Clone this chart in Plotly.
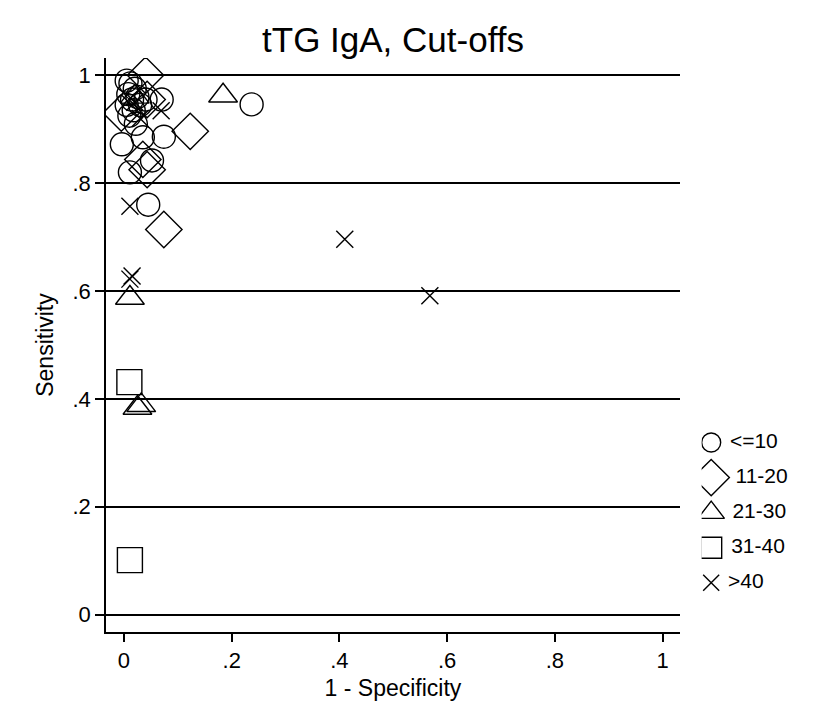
import plotly.graph_objects as go

# ---- data (1 - specificity, sensitivity) per cut-off group ----
groups = ["<=10", "11-20", "21-30", "31-40", ">40"]

x_le10 = [0.005, 0.012, 0.020, 0.008, 0.015, 0.025, 0.005, 0.018, 0.010, 0.030, 0.040, 0.022, 0.070,
          -0.004, 0.035, 0.074, 0.052, 0.011, 0.045, 0.237]
y_le10 = [0.990, 0.985, 0.975, 0.965, 0.955, 0.960, 0.945, 0.935, 0.925, 0.945, 0.955, 0.910, 0.955,
          0.872, 0.885, 0.886, 0.842, 0.820, 0.760, 0.946]

x_11_20 = [0.040, 0.043, -0.005, 0.123, 0.035, 0.043, 0.074]
y_11_20 = [1.000, 0.955, 0.930, 0.896, 0.844, 0.825, 0.714]

x_21_30 = [0.184, 0.020, 0.011, 0.025, 0.032]
y_21_30 = [0.962, 0.960, 0.587, 0.383, 0.388]

x_31_40 = [0.010, 0.011]
y_31_40 = [0.431, 0.101]

x_gt40 = [0.069, 0.020, 0.030, 0.011, 0.011, 0.015, 0.410, 0.568]
y_gt40 = [0.934, 0.950, 0.920, 0.757, 0.622, 0.628, 0.696, 0.591]

tick_vals = [0, 0.2, 0.4, 0.6, 0.8, 1]
tick_text = ["0", ".2", ".4", ".6", ".8", "1"]

series_x = [x_le10, x_11_20, x_21_30, x_31_40, x_gt40]
series_y = [y_le10, y_11_20, y_21_30, y_31_40, y_gt40]
symbols = ["circle-open", "diamond-open", "triangle-up-open", "square-open", "x-thin-open"]
sizes = [23, 28, 25, 25, 17]
leg_sizes = [19, 28, 23, 21, 16]

FONT = "Arial, Liberation Sans, sans-serif"
TXT = 22
fig = go.Figure()

for name, xs, ys, sym, sz in zip(groups, series_x, series_y, symbols, sizes):
    fig.add_trace(go.Scatter(
        x=xs, y=ys, mode="markers", name=name, showlegend=False,
        marker=dict(symbol=sym, size=sz, color="black", line=dict(color="black", width=1.4)),
        xaxis="x", yaxis="y"))

# custom legend drawn on a hidden auxiliary axis
for i, (name, sym, sz) in enumerate(zip(groups, symbols, leg_sizes)):
    fig.add_trace(go.Scatter(
        x=[0], y=[-i], mode="markers+text", text=[" " + name], textposition="middle right",
        textfont=dict(family=FONT, size=21, color="black"), showlegend=False,
        marker=dict(symbol=sym, size=sz, color="black", line=dict(color="black", width=1.4)),
        xaxis="x2", yaxis="y2", hoverinfo="skip"))

main_frac = 574 / 691

fig.update_layout(
    width=817, height=719,
    margin=dict(l=106, r=20, t=58, b=87),
    paper_bgcolor="white", plot_bgcolor="white",
    font=dict(family=FONT, color="black"),
    title=dict(text="tTG IgA, Cut-offs", x=main_frac / 2, xref="paper", xanchor="center",
               y=1 - 40 / 719, yanchor="middle", font=dict(size=35, family=FONT, color="black")),
    xaxis=dict(domain=[0, main_frac], range=[-0.0334, 1.0325], tickvals=tick_vals, ticktext=tick_text,
               showgrid=False, zeroline=False, showline=True, linecolor="black", linewidth=1.5,
               ticks="outside", ticklen=8, tickwidth=1.5, tickcolor="black",
               tickfont=dict(size=TXT, family=FONT),
               title=dict(text="1 - Specificity", font=dict(size=23, family=FONT), standoff=8),
               anchor="y"),
    yaxis=dict(domain=[0, 1], range=[-0.0323, 1.032], tickvals=tick_vals, ticktext=tick_text,
               showgrid=True, gridcolor="black", gridwidth=1.5, zeroline=False,
               showline=True, linecolor="black", linewidth=1.5,
               ticks="outside", ticklen=9, tickwidth=1.5, tickcolor="black",
               tickfont=dict(size=TXT, family=FONT),
               title=dict(text="Sensitivity", font=dict(size=23, family=FONT), standoff=12),
               anchor="x"),
    xaxis2=dict(domain=[0.862, 1.0], range=[-0.4, 3.6], visible=False, anchor="y2"),
    yaxis2=dict(domain=[0.0553, 0.3606], range=[-4.5, 0.5], visible=False, anchor="x2"),
)

fig.write_html("out.html")
